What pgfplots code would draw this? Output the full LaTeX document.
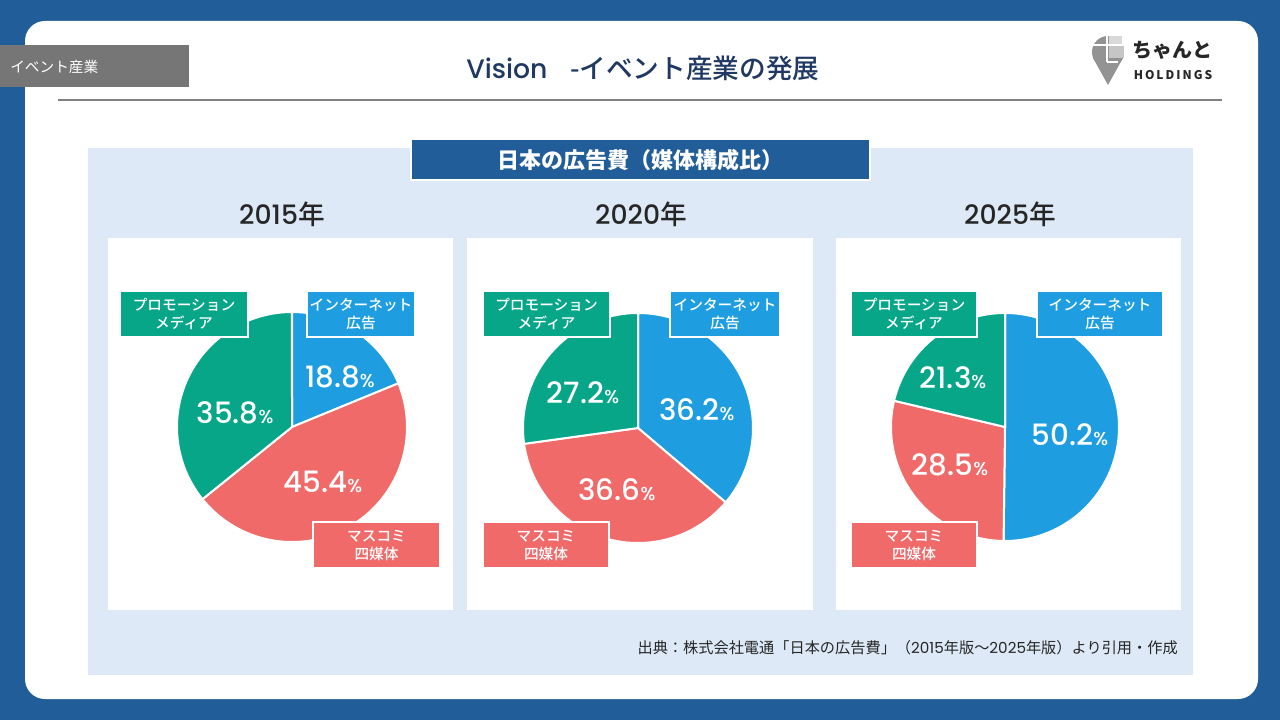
\documentclass[border=0pt]{standalone}
\usepackage{pgfplots}
\pgfplotsset{compat=1.18}
\usepackage{fontspec}
\setmainfont{Noto Sans CJK JP}
\newfontfamily\cjkmed{Noto Sans CJK JP Medium}
\newfontfamily\pop{Poppins Medium}
\newfontfamily\popr{Poppins}
\definecolor{frame}{RGB}{33,94,153}
\definecolor{panel}{RGB}{221,233,246}
\definecolor{titleblue}{RGB}{31,56,100}
\definecolor{pieblue}{RGB}{30,158,224}
\definecolor{piered}{RGB}{240,106,106}
\definecolor{piegreen}{RGB}{8,166,136}
\definecolor{taggray}{RGB}{118,118,118}
\definecolor{linegray}{RGB}{128,128,128}
\definecolor{txt}{RGB}{38,38,38}
\newcommand{\fs}[1]{\fontsize{#1}{#1}\selectfont}
\newcommand{\pct}[1]{{\pop\fs{22}#1}{\pop\fs{14}\%}}
\begin{document}
\begin{tikzpicture}
\begin{axis}[width=960pt, height=540pt, scale only axis,
  xmin=0, xmax=1280, ymin=0, ymax=720, y dir=reverse,
  axis lines=none, ticks=none, clip=false]
% slide background
\fill[frame] (axis cs:0,0) rectangle (axis cs:1280,720);
\fill[white, rounded corners=15pt] (axis cs:25,21) rectangle (axis cs:1258,699);
\fill[taggray] (axis cs:0,45) rectangle (axis cs:189,87);
\node[anchor=west, text=white, font=\fs{11}, inner sep=0pt] at (axis cs:10,67) {イベント産業};
\node[text=titleblue, font=\fs{20}\cjkmed, anchor=west, inner sep=0pt] at (axis cs:466,68) {{\pop Vision}\hspace{17pt}-イベント産業の発展};
\draw[linegray, line width=2.2pt] (axis cs:58,100) -- (axis cs:1222,100);
% logo
\fill[gray!85] (axis cs:1108,52) circle[radius=12pt];
\fill[gray!85] (axis cs:1093,58) -- (axis cs:1123,58) -- (axis cs:1108,85) -- cycle;
\fill[gray!45] (axis cs:1109,44) rectangle (axis cs:1124,58);
\fill[gray!30] (axis cs:1109,36) rectangle (axis cs:1122,44);
\draw[white, line width=1.5pt] (axis cs:1090,45) -- (axis cs:1126,45);
\draw[white, line width=1.5pt] (axis cs:1107,34) -- (axis cs:1107,62);
\draw[white, line width=1.5pt] (axis cs:1107,62) -- (axis cs:1118,62);
\node[text=black!85, font=\fs{15}\bfseries] at (axis cs:1172,50) {ちゃんと};
\node[text=black!85, font=\fs{9}\bfseries] at (axis cs:1173,75) {H\,O\,L\,D\,I\,N\,G\,S};
% data panel
\fill[panel] (axis cs:88,148) rectangle (axis cs:1193,675);
\draw[fill=frame, draw=white, line width=1.5pt] (axis cs:411,139) rectangle (axis cs:870,180);
\node[text=white, font=\fs{16.5}\bfseries] at (axis cs:640,160) {日本の広告費（媒体構成比）};
\fill[white] (axis cs:108,238) rectangle (axis cs:453,610);
\fill[white] (axis cs:467,238) rectangle (axis cs:813,610);
\fill[white] (axis cs:836,238) rectangle (axis cs:1181,610);
\node[text=txt, font=\fs{20}\cjkmed] at (axis cs:282,214) {{\pop 2015}年};
\node[text=txt, font=\fs{20}\cjkmed] at (axis cs:641,214) {{\pop 2020}年};
\node[text=txt, font=\fs{20}\cjkmed] at (axis cs:1010,214) {{\pop 2025}年};
% ---- 2015: internet 18.8, mass 45.4, promo 35.8
\addplot[draw=white, line width=1.5pt, fill=pieblue, domain={3.6*0}:{3.6*18.8}, samples=60]
  ({292+115*sin(x)}, {427-115*cos(x)}) -- (axis cs:292,427) -- cycle;
\addplot[draw=white, line width=1.5pt, fill=piered, domain={3.6*18.8}:{3.6*(18.8+45.4)}, samples=100]
  ({292+115*sin(x)}, {427-115*cos(x)}) -- (axis cs:292,427) -- cycle;
\addplot[draw=white, line width=1.5pt, fill=piegreen, domain={3.6*(18.8+45.4)}:{3.6*(18.8+45.4+35.8)}, samples=80]
  ({292+115*sin(x)}, {427-115*cos(x)}) -- (axis cs:292,427) -- cycle;
% ---- 2020: internet 36.2, mass 36.6, promo 27.2
\addplot[draw=white, line width=1.5pt, fill=pieblue, domain={3.6*0}:{3.6*36.2}, samples=80]
  ({638+115*sin(x)}, {428-115*cos(x)}) -- (axis cs:638,428) -- cycle;
\addplot[draw=white, line width=1.5pt, fill=piered, domain={3.6*36.2}:{3.6*(36.2+36.6)}, samples=80]
  ({638+115*sin(x)}, {428-115*cos(x)}) -- (axis cs:638,428) -- cycle;
\addplot[draw=white, line width=1.5pt, fill=piegreen, domain={3.6*(36.2+36.6)}:{3.6*(36.2+36.6+27.2)}, samples=60]
  ({638+115*sin(x)}, {428-115*cos(x)}) -- (axis cs:638,428) -- cycle;
% ---- 2025: internet 50.2, mass 28.5, promo 21.3
\addplot[draw=white, line width=1.5pt, fill=pieblue, domain={3.6*0}:{3.6*50.2}, samples=100]
  ({1005+114*sin(x)}, {427-114*cos(x)}) -- (axis cs:1005,427) -- cycle;
\addplot[draw=white, line width=1.5pt, fill=piered, domain={3.6*50.2}:{3.6*(50.2+28.5)}, samples=60]
  ({1005+114*sin(x)}, {427-114*cos(x)}) -- (axis cs:1005,427) -- cycle;
\addplot[draw=white, line width=1.5pt, fill=piegreen, domain={3.6*(50.2+28.5)}:{3.6*(50.2+28.5+21.3)}, samples=60]
  ({1005+114*sin(x)}, {427-114*cos(x)}) -- (axis cs:1005,427) -- cycle;
% percent labels
\node[text=white] at (axis cs:340,377) {\pct{18.8}};
\node[text=white] at (axis cs:235,413) {\pct{35.8}};
\node[text=white] at (axis cs:323,482) {\pct{45.4}};
\node[text=white] at (axis cs:583,393) {\pct{27.2}};
\node[text=white] at (axis cs:697,410) {\pct{36.2}};
\node[text=white] at (axis cs:617,490) {\pct{36.6}};
\node[text=white] at (axis cs:953,378) {\pct{21.3}};
\node[text=white] at (axis cs:1070,435) {\pct{50.2}};
\node[text=white] at (axis cs:950,465) {\pct{28.5}};
% category boxes
\tikzset{lab/.style={text=white, align=center, font=\fontsize{11}{13.5}\selectfont\cjkmed}}
% 2015
\draw[fill=piegreen, draw=white, line width=1.2pt] (axis cs:120,291) rectangle (axis cs:248,337);
\node[lab] at (axis cs:184,314) {プロモーション\\メディア};
\draw[fill=pieblue, draw=white, line width=1.2pt] (axis cs:307,291) rectangle (axis cs:415,337);
\node[lab] at (axis cs:361,314) {インターネット\\広告};
\draw[fill=piered, draw=white, line width=1.2pt] (axis cs:313,522) rectangle (axis cs:440,568);
\node[lab] at (axis cs:376.5,545) {マスコミ\\四媒体};
% 2020
\draw[fill=piegreen, draw=white, line width=1.2pt] (axis cs:483,291) rectangle (axis cs:610,337);
\node[lab] at (axis cs:546.5,314) {プロモーション\\メディア};
\draw[fill=pieblue, draw=white, line width=1.2pt] (axis cs:670,291) rectangle (axis cs:780,337);
\node[lab] at (axis cs:725,314) {インターネット\\広告};
\draw[fill=piered, draw=white, line width=1.2pt] (axis cs:483,522) rectangle (axis cs:609,568);
\node[lab] at (axis cs:546,545) {マスコミ\\四媒体};
% 2025
\draw[fill=piegreen, draw=white, line width=1.2pt] (axis cs:851,291) rectangle (axis cs:977,337);
\node[lab] at (axis cs:914,314) {プロモーション\\メディア};
\draw[fill=pieblue, draw=white, line width=1.2pt] (axis cs:1037,291) rectangle (axis cs:1163,337);
\node[lab] at (axis cs:1100,314) {インターネット\\広告};
\draw[fill=piered, draw=white, line width=1.2pt] (axis cs:851,522) rectangle (axis cs:977,568);
\node[lab] at (axis cs:914,545) {マスコミ\\四媒体};
% source
\node[anchor=east, text=txt, font=\fs{11.4}, inner sep=0pt] at (axis cs:1178,648) {出典：株式会社電通「日本の広告費」（{\popr 2015}年版～{\popr 2025}年版）より引用・作成};
\end{axis}
\end{tikzpicture}
\end{document}
